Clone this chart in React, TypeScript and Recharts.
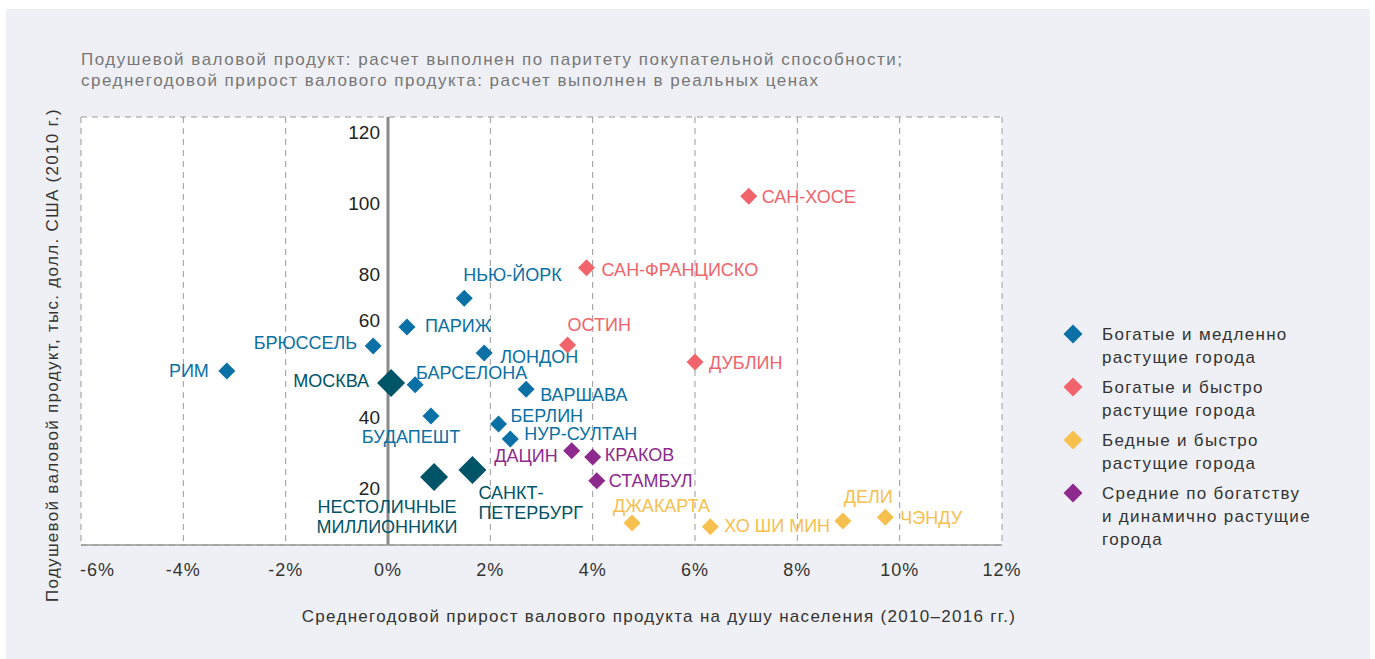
import React from 'react'
import {
  ScatterChart,
  Scatter,
  XAxis,
  YAxis,
  CartesianGrid,
  ReferenceLine,
  ReferenceDot,
} from 'recharts'

// x: среднегодовой прирост, %; y: подушевой продукт, тыс. долл.
const richSlow = [
  { city: 'РИМ', x: -3.15, y: 48.8 },
  { city: 'БРЮССЕЛЬ', x: -0.29, y: 55.8 },
  { city: 'ПАРИЖ', x: 0.37, y: 61.1 },
  { city: 'НЬЮ-ЙОРК', x: 1.49, y: 69.2 },
  { city: 'ЛОНДОН', x: 1.88, y: 53.8 },
  { city: 'БАРСЕЛОНА', x: 0.53, y: 44.9 },
  { city: 'ВАРШАВА', x: 2.7, y: 43.7 },
  { city: 'БУДАПЕШТ', x: 0.84, y: 36.2 },
  { city: 'БЕРЛИН', x: 2.16, y: 33.9 },
  { city: 'НУР-СУЛТАН', x: 2.39, y: 29.7 },
]

const richFast = [
  { city: 'САН-ХОСЕ', x: 7.05, y: 97.8 },
  { city: 'САН-ФРАНЦИСКО', x: 3.88, y: 77.7 },
  { city: 'ОСТИН', x: 3.51, y: 56.1 },
  { city: 'ДУБЛИН', x: 6.0, y: 51.3 },
]

const poorFast = [
  { city: 'ДЖАКАРТА', x: 4.77, y: 6.2 },
  { city: 'ХО ШИ МИН', x: 6.3, y: 5.1 },
  { city: 'ДЕЛИ', x: 8.89, y: 6.7 },
  { city: 'ЧЭНДУ', x: 9.72, y: 7.8 },
]

const midFast = [
  { city: 'ДАЦИН', x: 3.59, y: 26.4 },
  { city: 'КРАКОВ', x: 4.0, y: 24.7 },
  { city: 'СТАМБУЛ', x: 4.08, y: 18.0 },
]

const russia = [
  { city: 'МОСКВА', x: 0.06, y: 45.4 },
  { city: 'НЕСТОЛИЧНЫЕ\nМИЛЛИОННИКИ', x: 0.9, y: 19.1 },
  { city: 'САНКТ-\nПЕТЕРБУРГ', x: 1.65, y: 21.0 },
]

const xTicks = [-6, -4, -2, 0, 2, 4, 6, 8, 10, 12]
const yTicks = [0, 20, 40, 60, 80, 100, 120]
const yTickLabels = [20, 40, 60, 80, 100, 120]

const legendLabels = [
  'Богатые и медленно\nрастущие города',
  'Богатые и быстро\nрастущие города',
  'Бедные и быстро\nрастущие города',
  'Средние по богатству\nи динамично растущие\nгорода',
]

const COLORS = ['#0a70a5', '#f1646b', '#f6c04f', '#8e2a8d']
const RUSSIA_COLOR = '#005468'
const FONT = '"Liberation Sans", Arial, sans-serif'

// label offset from the marker: dx, dy, anchor
const labelPlace: Record<string, [number, number, 'start' | 'middle' | 'end']> = {
  'РИМ': [-18, 0, 'end'],
  'БРЮССЕЛЬ': [-16, -3, 'end'],
  'ПАРИЖ': [18, -1, 'start'],
  'НЬЮ-ЙОРК': [-1, -23, 'start'],
  'ЛОНДОН': [16, 4, 'start'],
  'БАРСЕЛОНА': [1, -12, 'start'],
  'ВАРШАВА': [14, 6, 'start'],
  'БУДАПЕШТ': [-20, 21, 'middle'],
  'БЕРЛИН': [12, -8, 'start'],
  'НУР-СУЛТАН': [14, -5, 'start'],
  'МОСКВА': [-22, -2, 'end'],
  'НЕСТОЛИЧНЫЕ\nМИЛЛИОННИКИ': [-47, 30, 'middle'],
  'САНКТ-\nПЕТЕРБУРГ': [6, 23, 'start'],
  'САН-ХОСЕ': [13, 1, 'start'],
  'САН-ФРАНЦИСКО': [15, 2, 'start'],
  'ОСТИН': [0, -20, 'start'],
  'ДУБЛИН': [14, 1, 'start'],
  'ДАЦИН': [-14, 5, 'end'],
  'КРАКОВ': [12, -2, 'start'],
  'СТАМБУЛ': [12, 0, 'start'],
  'ДЖАКАРТА': [-19, -17, 'start'],
  'ХО ШИ МИН': [14, -1, 'start'],
  'ДЕЛИ': [1, -24, 'start'],
  'ЧЭНДУ': [15, 1, 'start'],
}

const diamondShape = (color: string, half: number) => (props: any) => {
  const { cx, cy, payload } = props
  if (cx == null || cy == null) return <g />
  const [dx, dy, anchor] = labelPlace[payload.city] || [12, 0, 'start']
  const lines = String(payload.city).split('\n')
  return (
    <g>
      <path
        d={`M${cx},${cy - half}L${cx + half},${cy}L${cx},${cy + half}L${cx - half},${cy}Z`}
        fill={color}
      />
      <text
        x={cx + dx}
        y={cy + dy}
        textAnchor={anchor}
        dominantBaseline="central"
        fill={color}
        fontSize={18}
        fontFamily={FONT}
      >
        {lines.map((l, i) => (
          <tspan key={i} x={cx + dx} dy={i === 0 ? 0 : 20}>
            {l}
          </tspan>
        ))}
      </text>
    </g>
  )
}

const XTick = (props: any) => {
  const { x, y, payload } = props
  const first = payload.value === xTicks[0]
  return (
    <text
      x={first ? x - 1 : x}
      y={y + 17}
      textAnchor={first ? 'start' : 'middle'}
      dominantBaseline="central"
      fill="#333"
      fontSize={18}
      fontFamily={FONT}
      letterSpacing={1}
    >
      {payload.value}%
    </text>
  )
}

const yLabel = (v: number) => (props: any) => {
  const vb = props.viewBox || {}
  return (
    <text
      x={vb.x - 8}
      y={vb.y + (v === 60 ? -11 : 15)}
      textAnchor="end"
      dominantBaseline="central"
      fill="#222"
      fontSize={19}
      fontFamily={FONT}
    >
      {v}
    </text>
  )
}

export default function App() {
  return (
    <div style={{ position: 'absolute', left: 0, top: 0, width: 1375, height: 659, background: '#fff', fontFamily: FONT, overflow: 'hidden' }}>
      <div style={{ position: 'absolute', left: 6, top: 9, width: 1364, height: 650, background: '#eff0f5' }} />

      <div style={{ position: 'absolute', left: 81, top: 49, color: '#777', fontSize: 17, lineHeight: '21px', letterSpacing: 1.5, whiteSpace: 'nowrap' }}>
        Подушевой валовой продукт: расчет выполнен по паритету покупательной способности;
        <br />
        среднегодовой прирост валового продукта: расчет выполнен в реальных ценах
      </div>

      <div style={{ position: 'absolute', left: 0, top: 0 }}>
        <ScatterChart width={1375} height={659} margin={{ top: 117, left: 81, right: 373, bottom: 84 }}>
          <CartesianGrid stroke="#9a9a9a" strokeDasharray="6 5" fill="#fff" fillOpacity={1} />
          <XAxis
            type="number"
            dataKey="x"
            domain={[-6, 12]}
            ticks={xTicks}
            interval={0}
            height={30}
            tickLine={false}
            axisLine={{ stroke: '#999', strokeWidth: 1.5 }}
            tick={<XTick />}
            allowDataOverflow
          />
          <YAxis
            type="number"
            dataKey="y"
            domain={[0, 120]}
            ticks={yTicks}
            interval={0}
            width={0}
            tick={false}
            tickLine={false}
            axisLine={{ stroke: '#999', strokeWidth: 1.5 }}
            allowDataOverflow
          />
          <ReferenceLine x={0} stroke="#8a8a8a" strokeWidth={3} />
          {yTickLabels.map((v) => (
            <ReferenceDot key={v} x={0} y={v} r={0} fill="none" stroke="none" ifOverflow="visible" label={yLabel(v)} />
          ))}
          <Scatter name="Богатые и медленно растущие" data={richSlow} shape={diamondShape(COLORS[0], 8.5)} isAnimationActive={false} />
          <Scatter name="Богатые и быстро растущие" data={richFast} shape={diamondShape(COLORS[1], 8.5)} isAnimationActive={false} />
          <Scatter name="Бедные и быстро растущие" data={poorFast} shape={diamondShape(COLORS[2], 8.5)} isAnimationActive={false} />
          <Scatter name="Средние по богатству" data={midFast} shape={diamondShape(COLORS[3], 8.5)} isAnimationActive={false} />
          <Scatter name="Россия" data={russia} shape={diamondShape(RUSSIA_COLOR, 14)} isAnimationActive={false} />
        </ScatterChart>
      </div>

      <div
        style={{
          position: 'absolute',
          left: 53,
          top: 355,
          width: 700,
          marginLeft: -350,
          marginTop: -11,
          textAlign: 'center',
          transform: 'rotate(-90deg)',
          color: '#333',
          fontSize: 17,
          lineHeight: '22px',
          letterSpacing: 1.3,
          whiteSpace: 'nowrap',
        }}
      >
        Подушевой валовой продукт, тыс. долл. США (2010 г.)
      </div>

      <div style={{ position: 'absolute', left: 159, width: 1000, top: 606, textAlign: 'center', color: '#333', fontSize: 17, lineHeight: '22px', letterSpacing: 1.3, whiteSpace: 'nowrap' }}>
        Среднегодовой прирост валового продукта на душу населения (2010–2016 гг.)
      </div>

      <div style={{ position: 'absolute', left: 1062, top: 323 }}>
        {legendLabels.map((label, i) => (
          <div key={i} style={{ position: 'relative', marginBottom: 7, paddingLeft: 40, color: '#333', fontSize: 17, lineHeight: '23px', letterSpacing: 1.3, whiteSpace: 'pre' }}>
            <svg width={22} height={22} style={{ position: 'absolute', left: 0, top: 0 }}>
              <path d="M11,1.5L20.5,11L11,20.5L1.5,11Z" fill={COLORS[i]} />
            </svg>
            {label}
          </div>
        ))}
      </div>
    </div>
  )
}
